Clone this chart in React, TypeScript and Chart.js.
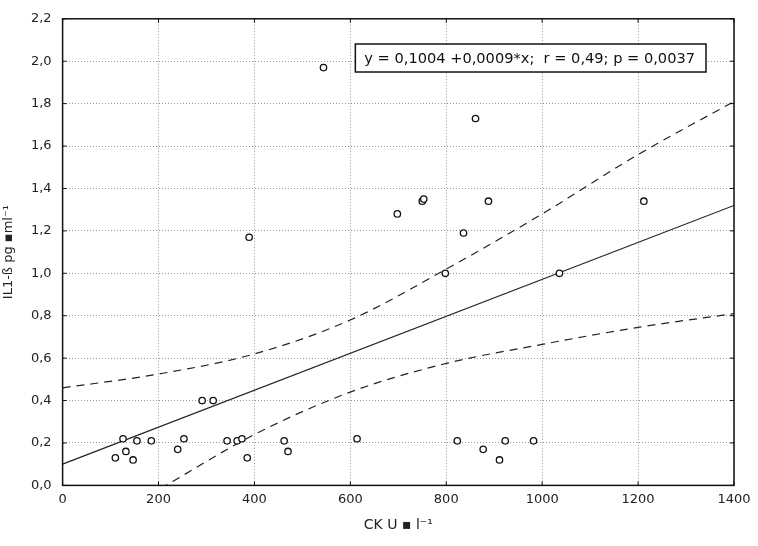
import React, { useEffect, useRef } from "react";
import { Chart, registerables } from "chart.js";

Chart.register(...registerables);

// Observations: CK (U/l) and IL1-beta (pg/ml)
const ckValues = [110, 126, 132, 147, 155, 185, 240, 253, 291, 314, 343, 364, 374, 385, 389, 462, 470, 544, 614, 698, 750, 753, 798, 823, 836, 861, 877, 888, 911, 923, 982, 1036, 1212];
const ilValues = [0.13, 0.22, 0.16, 0.12, 0.21, 0.21, 0.17, 0.22, 0.40, 0.40, 0.21, 0.21, 0.22, 0.13, 1.17, 0.21, 0.16, 1.97, 0.22, 1.28, 1.34, 1.35, 1.00, 0.21, 1.19, 1.73, 0.17, 1.34, 0.12, 0.21, 0.21, 1.00, 1.34];

// Regression line endpoints
const fitX = [0, 1400];
const fitY = [0.1004, 1.32];

// 95% confidence band
const bandX = [0, 200, 400, 600, 800, 1000, 1200, 1400];
const bandUpper = [0.46, 0.525, 0.62, 0.78, 1.02, 1.28, 1.56, 1.81];
const bandLower = [-0.27, -0.02, 0.24, 0.44, 0.575, 0.665, 0.745, 0.81];

const xTitle = "CK U ▪ l⁻¹";
const yTitle = "IL1-ß pg ▪ml⁻¹";
const annotationText = "y = 0,1004 +0,0009*x;  r = 0,49; p = 0,0037";

const WIDE = "'DejaVu Sans', 'Liberation Sans', sans-serif";

const framePlugin = {
  id: "frameAndNote",
  afterDatasetsDraw(chart: any) {
    const { ctx, chartArea } = chart;
    const xs = chart.scales.x;
    const ys = chart.scales.y;
    ctx.save();
    // frame
    ctx.strokeStyle = "#111";
    ctx.lineWidth = 1.5;
    ctx.strokeRect(chartArea.left, chartArea.top, chartArea.right - chartArea.left, chartArea.bottom - chartArea.top);
    // inward tick marks
    ctx.lineWidth = 1;
    ctx.beginPath();
    xs.ticks.forEach((t: any) => {
      const p = xs.getPixelForValue(t.value);
      ctx.moveTo(p, chartArea.bottom);
      ctx.lineTo(p, chartArea.bottom - 4);
      ctx.moveTo(p, chartArea.top);
      ctx.lineTo(p, chartArea.top + 4);
    });
    ys.ticks.forEach((t: any) => {
      const p = ys.getPixelForValue(t.value);
      ctx.moveTo(chartArea.left, p);
      ctx.lineTo(chartArea.left + 4, p);
      ctx.moveTo(chartArea.right, p);
      ctx.lineTo(chartArea.right - 4, p);
    });
    ctx.stroke();
    // annotation box anchored in data space
    const bx0 = xs.getPixelForValue(600);
    const by0 = ys.getPixelForValue(2.1);
    ctx.font = "14.6px " + WIDE;
    const tw = ctx.measureText(annotationText).width;
    const bx = bx0 + 5;
    const by = by0 + 4;
    const bw = tw + 20;
    const bh = 28;
    ctx.fillStyle = "#fff";
    ctx.fillRect(bx, by, bw, bh);
    ctx.lineWidth = 1.5;
    ctx.strokeStyle = "#111";
    ctx.strokeRect(bx, by, bw, bh);
    ctx.fillStyle = "#111";
    ctx.textBaseline = "middle";
    ctx.textAlign = "left";
    ctx.fillText(annotationText, bx + 9, by + bh / 2 + 1);
    ctx.restore();
  },
};

export default function App() {
  const ref = useRef<HTMLCanvasElement>(null);
  useEffect(() => {
    if (!ref.current) return;
    const points = ckValues.map((x, i) => ({ x, y: ilValues[i] }));
    const fit = fitX.map((x, i) => ({ x, y: fitY[i] }));
    const upper = bandX.map((x, i) => ({ x, y: bandUpper[i] }));
    const lower = bandX.map((x, i) => ({ x, y: bandLower[i] }));
    const chart = new Chart(ref.current, {
      type: "scatter",
      data: {
        datasets: [
          {
            data: points,
            pointRadius: 3.2,
            pointBorderWidth: 1.3,
            pointBorderColor: "#111",
            pointBackgroundColor: "#fff",
            showLine: false,
          },
          {
            data: fit,
            showLine: true,
            pointRadius: 0,
            borderColor: "#222",
            borderWidth: 1.2,
          },
          {
            data: upper,
            showLine: true,
            pointRadius: 0,
            borderColor: "#222",
            borderWidth: 1.2,
            borderDash: [8, 6],
            cubicInterpolationMode: "monotone",
          },
          {
            data: lower,
            showLine: true,
            pointRadius: 0,
            borderColor: "#222",
            borderWidth: 1.2,
            borderDash: [8, 6],
            cubicInterpolationMode: "monotone",
          },
        ],
      },
      options: {
        animation: false,
        responsive: false,
        layout: { padding: { top: 16, right: 24, left: 0, bottom: 0 } },
        plugins: { legend: { display: false }, tooltip: { enabled: false } },
        scales: {
          x: {
            type: "linear",
            min: 0,
            max: 1400,
            afterFit: (s: any) => { s.height = 60.6; },
            ticks: {
              stepSize: 200,
              color: "#222",
              font: { family: WIDE, size: 13 },
              padding: 6,
              maxRotation: 0,
              callback: (v: any) => String(v),
            },
            grid: { color: "#999", drawTicks: false },
            border: { display: false, dash: [1, 2] },
            title: { display: true, text: xTitle, color: "#222", font: { family: WIDE, size: 14 }, padding: { bottom: 12, top: 0 } },
          },
          y: {
            type: "linear",
            min: 0,
            max: 2.2,
            afterFit: (s: any) => { s.width = 62.6; },
            ticks: {
              stepSize: 0.2,
              color: "#222",
              font: { family: WIDE, size: 13 },
              padding: 11,
              callback: (v: any) => Number(v).toFixed(1).replace(".", ","),
            },
            grid: { color: "#999", drawTicks: false },
            border: { display: false, dash: [1, 2] },
            title: { display: true, text: yTitle, color: "#222", font: { family: WIDE, size: 13 }, padding: { top: 1, bottom: 0 } },
          },
        },
      },
      plugins: [framePlugin],
    } as any);
    return () => chart.destroy();
  }, []);
  return (
    <div style={{ position: "absolute", left: 0, top: 0, width: 758, height: 546, background: "#fff" }}>
      <canvas ref={ref} width={758} height={546} style={{ display: "block" }} />
    </div>
  );
}
